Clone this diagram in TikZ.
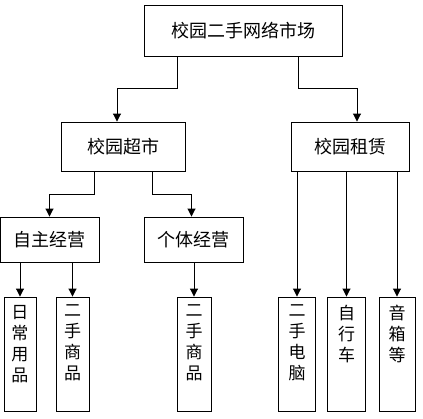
\documentclass[tikz,border=0pt]{standalone}
\usepackage{fontspec}
\newfontfamily\cjk{Noto Sans CJK SC}
\usetikzlibrary{arrows.meta,calc,positioning}
\newcommand{\vchars}[1]{\parbox[c][104pt][t]{18pt}{\centering\vspace{3pt}#1}}
\tikzset{
	box/.style={draw, line width=0.9pt, inner sep=0pt, font=\cjk\fontsize{18}{22}\selectfont},
	leaf/.style={draw, line width=0.9pt, inner xsep=0pt, inner ysep=5pt, font=\cjk\fontsize{17}{21}\selectfont},
	arr/.style={line width=0.9pt, -{Triangle[length=8pt,width=8pt]}}
}
\begin{document}
\begin{tikzpicture}[x=1pt,y=-1pt]
	\useasboundingbox (0,0) rectangle (423,418);
	% top
	\node[box, minimum width=198pt, minimum height=51pt] (market) at (243,30.5) {校园二手网络市场};
	% second row
	\node[box, minimum width=124pt, minimum height=49pt] (super) at (123,146.5) {校园超市};
	\node[box, minimum width=118pt, minimum height=49pt] (rent) at (350,146.5) {校园租赁};
	% third row
	\node[box, minimum width=99pt, minimum height=45pt] (self) at (49.5,239.5) {自主经营};
	\node[box, minimum width=99pt, minimum height=45pt] (indiv) at (193.5,239.5) {个体经营};
	% leaves
	\node[leaf, minimum width=32pt] (daily) at (20,354) {\vchars{日\\常\\用\\品}};
	\node[leaf, minimum width=33pt] (usedA) at (72.5,354) {\vchars{二\\手\\商\\品}};
	\node[leaf, minimum width=34pt] (usedB) at (194,354) {\vchars{二\\手\\商\\品}};
	\node[leaf, minimum width=37pt] (pc) at (297,354) {\vchars{二\\手\\电\\脑}};
	\node[leaf, minimum width=38pt] (bike) at (346.5,354) {\vchars{自\\行\\车}};
	\node[leaf, minimum width=36pt] (audio) at (397,354) {\vchars{音\\箱\\等}};
	% connectors
	\draw[arr] ([xshift=-66pt]market.south) -- ++(0,32) -| ([xshift=-6pt]super.north);
	\draw[arr] ([xshift=55pt]market.south) -- ++(0,32) -| ([xshift=7pt]rent.north);
	\draw[arr] ([xshift=-29pt]super.south) -- ++(0,23) -| (self.north);
	\draw[arr] ([xshift=29pt]super.south) -- ++(0,23) -| ([xshift=-2pt]indiv.north);
	\draw[arr] (self.south -| daily.north) -- (daily.north);
	\draw[arr] (self.south -| usedA.north) -- (usedA.north);
	\draw[arr] (indiv.south -| usedB.north) -- (usedB.north);
	\draw[arr] (rent.south -| pc.north) -- (pc.north);
	\draw[arr] (rent.south -| bike.north) -- (bike.north);
	\draw[arr] (rent.south -| audio.north) -- (audio.north);
\end{tikzpicture}
\end{document}
